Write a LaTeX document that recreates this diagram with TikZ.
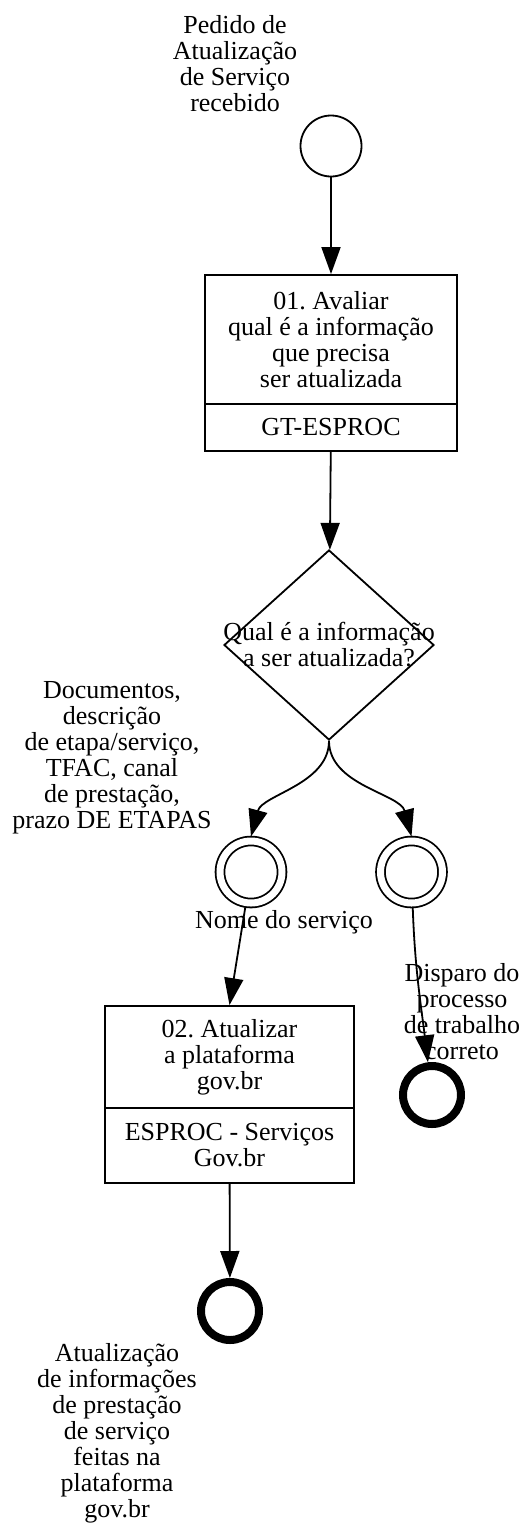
\documentclass[tikz,border=0pt]{standalone}
\usepackage{fontspec}
\setmainfont{Liberation Serif}
\frenchspacing
\usetikzlibrary{arrows.meta}
\usetikzlibrary{shapes.geometric}

\begin{document}
\begin{tikzpicture}[x=1pt, y=-1pt, line width=1.8pt,
    every node/.style={font=\fontsize{26}{26}\selectfont},
    txt/.style={align=center, inner sep=0pt},
    task/.style={draw, rectangle, inner sep=0pt, align=center},
    gate/.style={draw, diamond, minimum width=210pt, minimum height=190pt, inner sep=0pt},
    startev/.style={draw, circle, minimum size=61pt, inner sep=0pt},
    midev/.style={draw, circle, double, double distance=7pt, minimum size=62pt, inner sep=0pt, outer sep=4.5pt},
    endev/.style={draw, circle, line width=8pt, minimum size=58pt, inner sep=0pt, outer sep=4pt},
    flow/.style={-{Triangle[length=27pt,width=19pt]}}]
    \useasboundingbox (0,0) rectangle (526,1524);
    % events and tasks
    \node [startev] (start) at (331,146) {};
    \node [txt] (startlab) at (235,64) {Pedido de\\Atualização\\de Serviço\\recebido};
    \node [task, minimum width=252pt, minimum height=129pt] (avaliar) at (331,339.5) {01. Avaliar\\qual é a informação\\que precisa\\ser atualizada};
    \node [task, minimum width=252pt, minimum height=47pt] (avaliarlane) at (331,427.5) {GT-ESPROC};
    \node [gate, label={[txt]center:{Qual é a informação\\a ser atualizada?}}] (qual) at (329,645) {};
    \node [txt] (doclab) at (112,757.5) {Documentos,\\descrição\\de etapa/serviço,\\TFAC, canal\\de prestação,\\prazo DE ETAPAS};
    \node [midev] (nome) at (251,872) {};
    \node [midev] (disparo) at (411.5,872) {};
    \node [txt] (nomelab) at (284,922) {Nome do serviço};
    \node [task, minimum width=249pt, minimum height=102pt] (atualizar) at (229.5,1057) {02. Atualizar\\a plataforma\\gov.br};
    \node [task, minimum width=249pt, minimum height=75pt] (atualizarlane) at (229.5,1145.5) {ESPROC - Serviços\\Gov.br};
    \node [endev] (fimdisparo) at (432,1095) {};
    \node [txt] (disparolab) at (462,1012) {Disparo do\\processo\\de trabalho\\correto};
    \node [endev] (fim) at (230,1311) {};
    \node [txt] (fimlab) at (117,1433.5) {Atualização\\de informações\\de prestação\\de serviço\\feitas na\\plataforma\\gov.br};
    % flows
    \draw [flow] (start) -- (avaliar);
    \draw [flow] (avaliarlane) -- (qual);
    \draw [flow] (qual.south) to[out=-90, in=75, looseness=0.9] (nome.north);
    \draw [flow] (qual.south) to[out=-90, in=105, looseness=0.9] (disparo.north);
    \draw [flow] (nome) -- (atualizar.north);
    \draw [flow] (disparo) to[out=-88, in=97] (fimdisparo);
    \draw [flow] (atualizarlane) -- (fim);
\end{tikzpicture}
\end{document}
